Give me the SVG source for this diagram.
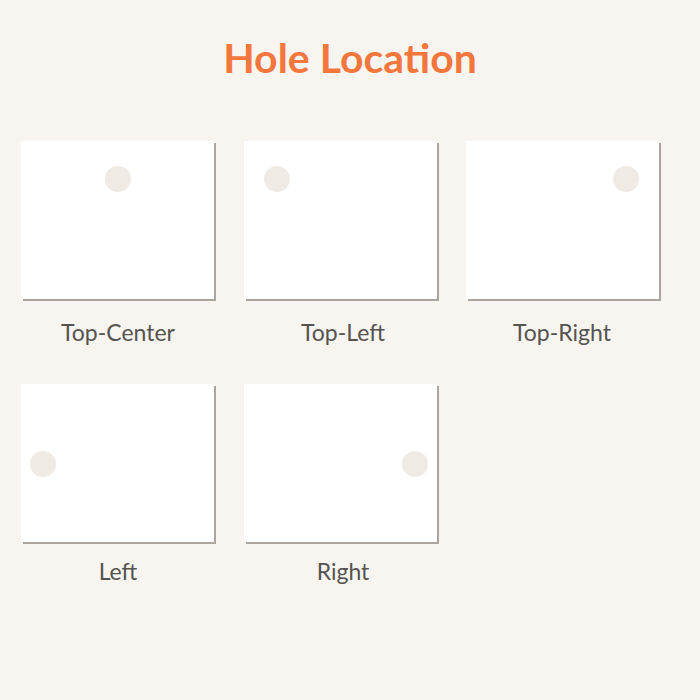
<svg xmlns="http://www.w3.org/2000/svg" width="700" height="700" viewBox="0 0 700 700">
<style>
.shadow{fill:#aaa69f}
.card{fill:#ffffff}
.hole{fill:#efebe4}
.label{font-family:Lato,"Open Sans",sans-serif;font-size:23px;fill:#555350;text-anchor:middle}
.title{font-family:Lato,"Open Sans",sans-serif;font-size:41px;font-weight:bold;fill:#f3773d;text-anchor:middle}
</style>
<rect width="700" height="700" fill="#f8f5f0"/>
<text class="title" x="350" y="73">Hole Location</text>
<g id="top-center">
<rect class="shadow" x="23" y="143" width="193" height="158"/>
<rect class="card" x="21" y="141" width="193" height="158"/>
<circle class="hole" cx="118" cy="179" r="13"/>
<text class="label" x="118" y="341">Top-Center</text>
</g>
<g id="top-left">
<rect class="shadow" x="246" y="143" width="193" height="158"/>
<rect class="card" x="244" y="141" width="193" height="158"/>
<circle class="hole" cx="277" cy="179" r="13"/>
<text class="label" x="343" y="341">Top-Left</text>
</g>
<g id="top-right">
<rect class="shadow" x="468" y="143" width="193" height="158"/>
<rect class="card" x="466" y="141" width="193" height="158"/>
<circle class="hole" cx="626" cy="179" r="13"/>
<text class="label" x="562" y="341">Top-Right</text>
</g>
<g id="left">
<rect class="shadow" x="23" y="386" width="193" height="158"/>
<rect class="card" x="21" y="384" width="193" height="158"/>
<circle class="hole" cx="43" cy="464" r="13"/>
<text class="label" x="118" y="580">Left</text>
</g>
<g id="right">
<rect class="shadow" x="246" y="386" width="193" height="158"/>
<rect class="card" x="244" y="384" width="193" height="158"/>
<circle class="hole" cx="415" cy="464" r="13"/>
<text class="label" x="343" y="580">Right</text>
</g>
<g id="connectors"/>
</svg>
